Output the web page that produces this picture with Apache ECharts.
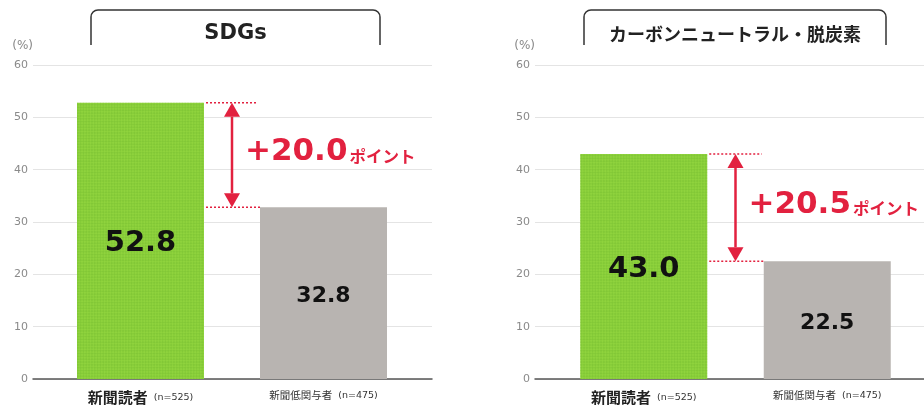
<!DOCTYPE html>
<html><head><meta charset="utf-8">
<script src="https://cdn.jsdelivr.net/npm/echarts@6/dist/echarts.min.js"></script>
<style>html,body{margin:0;padding:0;background:#fff}#c{width:924px;height:408px}</style>
</head><body><div id="c"></div>
<script>
var categories = ['新聞読者', '新聞低関与者'];
var sampleSizes = ['(n=525)', '(n=475)'];
var panelTitles = ['SDGs', 'カーボンニュートラル・脱炭素'];
var sdgsValues = [52.8, 32.8];
var carbonValues = [43.0, 22.5];
var yMin = 0, yMax = 60, yInterval = 10;
var unitLabel = '(%)';
var pointWord = 'ポイント';

var FONT = '"Noto Sans CJK JP", "Noto Sans", sans-serif';
var NUMFONT = '"DejaVu Sans", "Noto Sans CJK JP", sans-serif';
var RED = '#e2213f';
var BAR_W = 127;
var chart = echarts.init(document.getElementById('c'), null, {renderer: 'canvas'});

var bgGrids = [{left: 33, top: 65, width: 399, height: 314}, {left: 535, top: 65, width: 399, height: 314}];
var barGrids = [{left: 49, top: 65, width: 366, height: 314}, {left: 552, top: 65, width: 367, height: 314}];
var panels = [sdgsValues, carbonValues];

var grids = [], xAxes = [], yAxes = [], series = [];
panels.forEach(function (vals, p) {
  grids.push(bgGrids[p], barGrids[p]);
  var gb = grids.length - 2, gr = grids.length - 1;
  xAxes.push({gridIndex: gb, type: 'value', min: 0, max: 1,
    axisLine: {show: true, lineStyle: {color: '#555', width: 1.5}},
    axisTick: {show: false}, axisLabel: {show: false}, splitLine: {show: false}});
  yAxes.push({gridIndex: gb, type: 'value', min: yMin, max: yMax, interval: yInterval,
    name: unitLabel, nameLocation: 'end', nameGap: 13,
    nameTextStyle: {color: '#888', fontSize: 12, fontFamily: NUMFONT, align: 'right', padding: [0, 0, 0, 0]},
    axisLine: {show: false}, axisTick: {show: false},
    axisLabel: {color: '#8a8a8a', fontSize: 11, fontFamily: NUMFONT, margin: 5},
    splitLine: {lineStyle: {color: '#e4e4e4', width: 1}}});
  xAxes.push({gridIndex: gr, type: 'category', data: categories,
    axisLine: {show: false}, axisTick: {show: false},
    axisLabel: {margin: 11, interval: 0,
      formatter: function (v, i) {
        return i === 0 ? '{big|' + v + '}{small|  ' + sampleSizes[i] + '}' : '{mid|' + v + '}{small|  ' + sampleSizes[i] + '}';
      },
      rich: {
        big: {fontSize: 15, fontWeight: 'bold', color: '#222', fontFamily: FONT},
        mid: {fontSize: 10.5, color: '#333', fontFamily: FONT},
        small: {fontSize: 9.5, color: '#333', fontFamily: NUMFONT}
      }}});
  yAxes.push({gridIndex: gr, type: 'value', min: yMin, max: yMax, interval: yInterval, show: false});
  series.push({type: 'bar', xAxisIndex: xAxes.length - 1, yAxisIndex: yAxes.length - 1,
    barWidth: BAR_W, silent: true,
    data: vals.map(function (v, i) {
      return {value: v,
        itemStyle: i === 0 ? {color: '#8fd33d', decal: {symbol: 'rect', symbolSize: 1, color: 'rgba(118,190,48,0.5)',
            dashArrayX: [[2, 2], [0, 2, 2, 0]], dashArrayY: [2, 0], rotation: Math.PI / 4}}
          : {color: '#b8b4b1'},
        label: {show: true, position: 'inside', offset: [0, 3], formatter: v.toFixed(1),
          fontSize: i === 0 ? 29 : 22, fontWeight: 'bold', color: '#111', fontFamily: NUMFONT}};
    })});
});

chart.setOption({animation: false, grid: grids, xAxis: xAxes, yAxis: yAxes, series: series});

var graphics = [];
// title boxes
var boxes = [[91, 380], [584, 886]];
boxes.forEach(function (b, p) {
  graphics.push({type: 'rect', shape: {x: b[0], y: 10, width: b[1] - b[0], height: 44, r: [7, 7, 0, 0]},
    style: {fill: '#fff', stroke: '#333', lineWidth: 1.5}, z: 10});
  graphics.push({type: 'rect', shape: {x: b[0] - 2, y: 45, width: b[1] - b[0] + 4, height: 12},
    style: {fill: '#fff'}, z: 11});
  graphics.push({type: 'text', x: (b[0] + b[1]) / 2, y: 34, z: 12,
    style: {text: panelTitles[p], fill: '#222', font: p === 0 ? 'bold 21px ' + NUMFONT : 'bold 18px ' + FONT,
      textAlign: 'center', textVerticalAlign: 'middle'}});
});

// difference arrows
panels.forEach(function (vals, p) {
  var xi = p * 2 + 1, yi = p * 2 + 1;
  var a = chart.convertToPixel({xAxisIndex: xi, yAxisIndex: yi}, [0, vals[0]]);
  var b = chart.convertToPixel({xAxisIndex: xi, yAxisIndex: yi}, [1, vals[1]]);
  var x1 = a[0] + BAR_W / 2, x2 = b[0] - BAR_W / 2;
  var ax = (x1 + x2) / 2;
  var dot = {stroke: RED, lineWidth: 1.5, lineDash: [2, 2]};
  graphics.push({type: 'line', shape: {x1: x1 + 2, y1: a[1], x2: x2 - 2, y2: a[1]}, style: dot, z: 20});
  graphics.push({type: 'line', shape: {x1: x1 + 2, y1: b[1], x2: x2, y2: b[1]}, style: dot, z: 20});
  var ah = 14, aw = 8;
  graphics.push({type: 'line', shape: {x1: ax, y1: a[1] + ah, x2: ax, y2: b[1] - ah}, style: {stroke: RED, lineWidth: 2.5}, z: 20});
  graphics.push({type: 'polygon', shape: {points: [[ax, a[1]], [ax - aw, a[1] + ah], [ax + aw, a[1] + ah]]}, style: {fill: RED}, z: 20});
  graphics.push({type: 'polygon', shape: {points: [[ax, b[1]], [ax - aw, b[1] - ah], [ax + aw, b[1] - ah]]}, style: {fill: RED}, z: 20});
  var diff = (vals[0] - vals[1]).toFixed(1);
  graphics.push({type: 'text', x: ax + 13, y: (a[1] + b[1]) / 2 - 3, z: 20,
    style: {text: '{n|+' + diff + '}{p|' + pointWord + '}', textVerticalAlign: 'middle',
      rich: {n: {fontSize: 31, fontWeight: 'bold', fill: RED, fontFamily: NUMFONT, verticalAlign: 'bottom'},
             p: {fontSize: 16.5, fontWeight: 'bold', fill: RED, fontFamily: FONT, verticalAlign: 'bottom', padding: [0, 0, 3, 2]}}}});
});
chart.setOption({graphic: graphics});
</script></body></html>
